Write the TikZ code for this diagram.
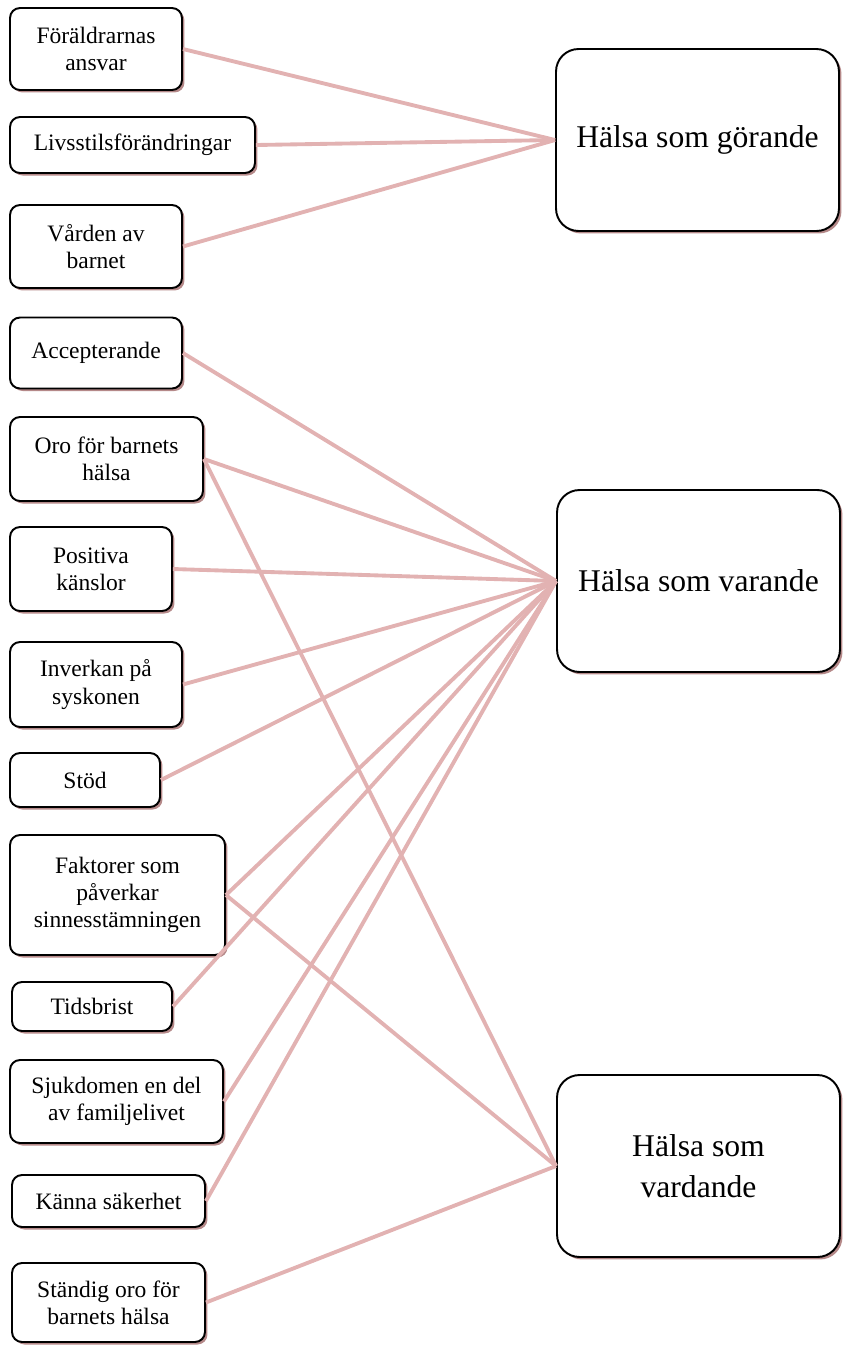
\documentclass[tikz,border=0pt]{standalone}
\usepackage{fontspec}
\setmainfont{Liberation Serif}
\usetikzlibrary{shadows}
\definecolor{linkpink}{RGB}{226,178,178}
\definecolor{shadowred}{RGB}{120,40,40}

\begin{document}
\begin{tikzpicture}[x=0.02cm, y=-0.02cm,
    sub/.style={draw, line width=1.1pt, rounded corners=0.2cm, fill=white, align=center, inner sep=0pt,
        drop shadow={shadow xshift=0.05cm, shadow yshift=-0.05cm, fill=shadowred, opacity=0.55},
        font=\fontsize{13.4}{15.4}\selectfont},
    theme/.style={sub, rounded corners=0.45cm, minimum width=5.66cm, minimum height=3.64cm,
        font=\fontsize{18}{23.3}\selectfont},
    link/.style={draw=linkpink, line width=2.2pt}]
    \useasboundingbox (0,0) rectangle (844,1353);

    % left column
    \node[sub, minimum width=3.44cm, minimum height=1.64cm] (foraldrar) at (96,49) {Föräldrarnas\\ansvar};
    \node[sub, minimum width=4.9cm, minimum height=1.12cm] (livsstil) at (132.5,145) {Livsstilsförändringar};
    \node[sub, minimum width=3.44cm, minimum height=1.66cm] (varden) at (96,246.5) {Vården av\\barnet};
    \node[sub, minimum width=3.44cm, minimum height=1.42cm] (accept) at (96,353) {Accepterande};
    \node[sub, minimum width=3.86cm, minimum height=1.68cm] (oro) at (106.5,459) {Oro för barnets\\hälsa};
    \node[sub, minimum width=3.24cm, minimum height=1.68cm] (positiva) at (91,569) {Positiva\\känslor};
    \node[sub, minimum width=3.44cm, minimum height=1.7cm] (inverkan) at (96,684.5) {Inverkan på\\syskonen};
    \node[sub, minimum width=3.0cm, minimum height=1.08cm] (stod) at (85,780) {Stöd};
    \node[sub, minimum width=4.3cm, minimum height=2.4cm] (faktorer) at (117.5,895) {Faktorer som\\påverkar\\sinnesstämningen};
    \node[sub, minimum width=3.2cm, minimum height=0.98cm] (tid) at (92,1006.5) {Tidsbrist};
    \node[sub, minimum width=4.26cm, minimum height=1.66cm] (sjuk) at (116.5,1101.5) {Sjukdomen en del\\av familjelivet};
    \node[sub, minimum width=3.86cm, minimum height=1.04cm] (kanna) at (108.5,1201) {Känna säkerhet};
    \node[sub, minimum width=3.86cm, minimum height=1.58cm] (standig) at (108.5,1302.5) {Ständig oro för\\barnets hälsa};

    % right column
    \node[theme] (gorande) at (697.5,140) {Hälsa som görande};
    \node[theme] (varande) at (698.5,581) {Hälsa som varande};
    \node[theme] (vardande) at (698.5,1166) {Hälsa som\\vardande};

    % links
    \foreach \n in {foraldrar, livsstil, varden} {
        \draw[link] (\n.east) -- (gorande.west);
    }
    \foreach \n in {accept, oro, positiva, inverkan, stod, faktorer, tid, sjuk, kanna} {
        \draw[link] (\n.east) -- (varande.west);
    }
    \foreach \n in {oro, faktorer, standig} {
        \draw[link] (\n.east) -- (vardande.west);
    }
\end{tikzpicture}
\end{document}
